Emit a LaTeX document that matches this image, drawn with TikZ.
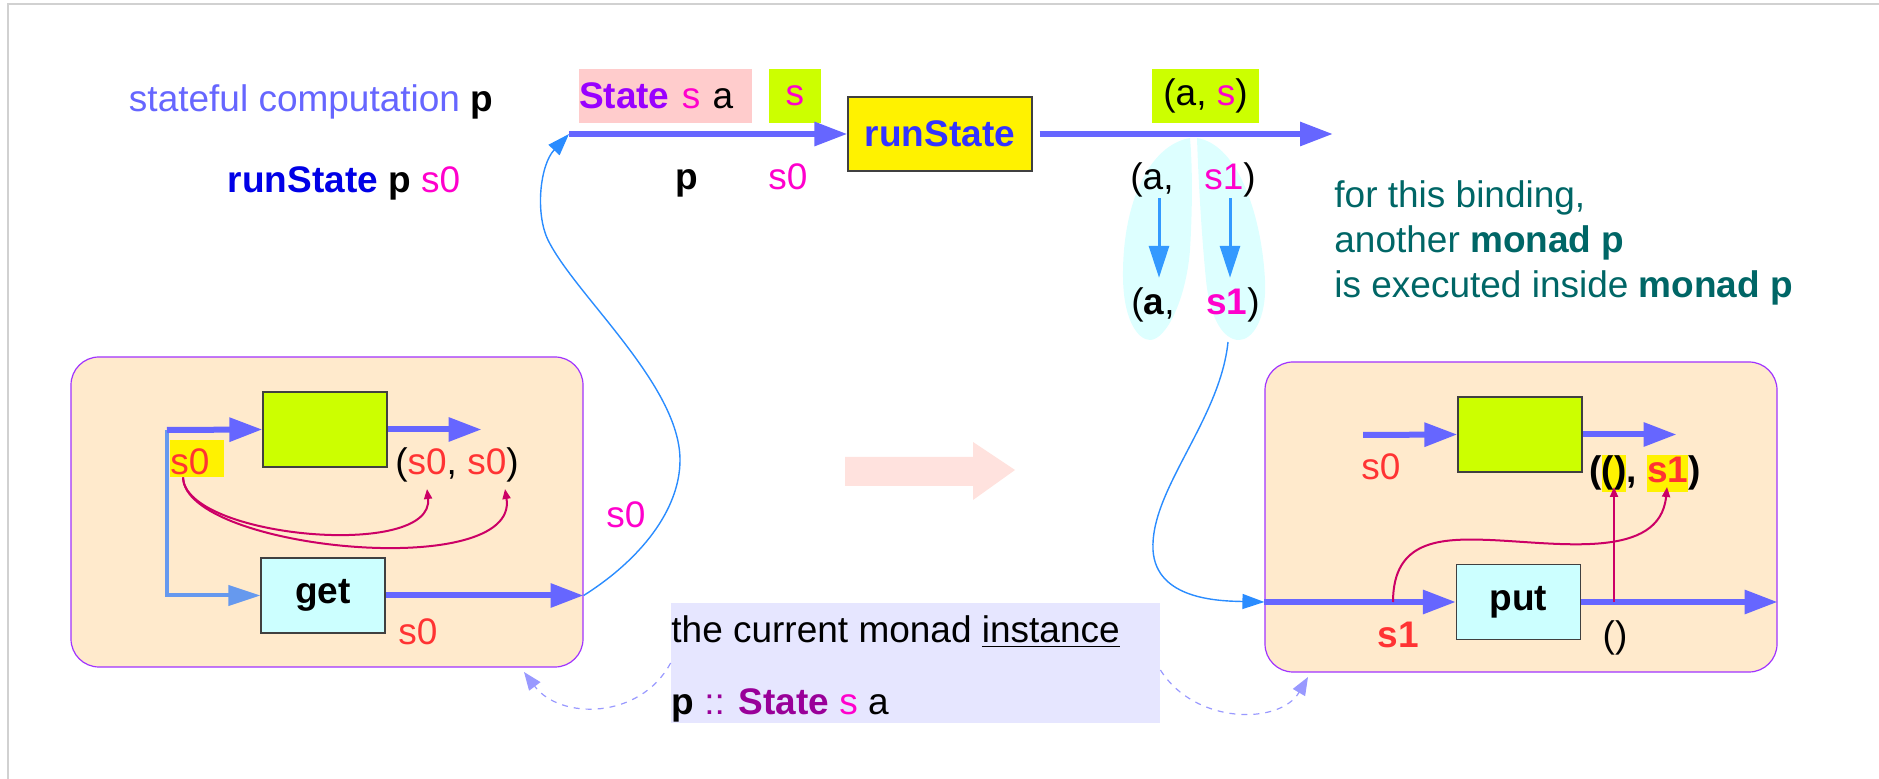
\documentclass[tikz,border=0pt]{standalone}
\usepackage{fontspec}
\setmainfont{Liberation Sans}
\usetikzlibrary{arrows.meta,positioning}

\definecolor{flow}{HTML}{6666FF}
\definecolor{wire}{HTML}{2A8CFF}
\definecolor{drop}{HTML}{3399FF}
\definecolor{fork}{HTML}{6699EE}
\definecolor{bind}{HTML}{CC0066}
\definecolor{stmag}{HTML}{FF00CC}
\definecolor{stred}{HTML}{FF3333}
\definecolor{stviolet}{HTML}{9900FF}
\definecolor{stplum}{HTML}{990099}
\definecolor{stblue}{HTML}{0000E6}
\definecolor{runblue}{HTML}{3333FF}
\definecolor{noteteal}{HTML}{006666}
\definecolor{stlime}{HTML}{CCFF00}
\definecolor{stcyan}{HTML}{CCFFFF}
\definecolor{leaf}{HTML}{DDFFFF}
\definecolor{panefill}{HTML}{FFEACC}
\definecolor{paneline}{HTML}{A033FF}
\definecolor{instfill}{HTML}{E6E6FF}
\definecolor{rose}{HTML}{FFCCCC}
\definecolor{ghost}{HTML}{FFE2DE}
\definecolor{hint}{HTML}{9999FF}

\newcommand{\hilite}[1]{{\setlength{\fboxsep}{0pt}\colorbox{yellow}{\vrule height 14pt depth 4.5pt width 0pt#1}}}

\begin{document}
\begin{tikzpicture}[x=0.5pt, y=-0.5pt, font=\fontsize{18.5}{22.5}\selectfont,
  flowarr/.style={draw=flow, line width=3pt, -{Triangle[length=16.5pt,width=11.5pt]}},
  forkarr/.style={draw=fork, line width=2pt, -{Triangle[length=16pt,width=10pt]}},
  droparr/.style={draw=drop, line width=1.5pt, -{Triangle[length=16pt,width=10pt]}},
  wirearr/.style={draw=wire, line width=0.7pt, -{Triangle[length=11pt,width=7.5pt]}},
  bindarr/.style={draw=bind, line width=1pt, -{Triangle[length=5pt,width=4pt]}},
  hintarr/.style={draw=hint, line width=0.6pt, dashed, -{Triangle[length=9pt,width=7pt]}},
  pane/.style={draw=paneline, fill=panefill, line width=0.6pt, rounded corners=14pt, minimum width=256pt, minimum height=155pt},
  fnbox/.style={draw=black!75, line width=0.6pt, minimum width=62pt, minimum height=37.5pt, inner sep=0pt},
  chip/.style={inner sep=0pt, minimum height=27pt},
  lbl/.style={inner sep=0pt, anchor=base}]
  \useasboundingbox (0,0) rectangle (1879,779);
  \draw[black!18, line width=1pt] (8,779) -- (8,4) -- (1879,4);

  \node[lbl, text=flow] (title) at (311,112) {stateful computation \textcolor{black}{\textbf{p}}};
  \node[lbl] (call) at (344,193) {\textcolor{stblue}{\textbf{runState}} \textbf{p} \textcolor{stmag}{s0}};

  % split of the result pair
  \fill[leaf] (1190,138) .. controls (1150,145) and (1124,200) .. (1123,270)
    .. controls (1122,320) and (1138,340) .. (1150,340)
    .. controls (1166,340) and (1186,300) .. (1190,250)
    .. controls (1193,200) and (1192,160) .. (1190,138) -- cycle;
  \fill[leaf] (1197,138) .. controls (1240,145) and (1262,220) .. (1265,280)
    .. controls (1267,320) and (1252,340) .. (1239,340)
    .. controls (1224,340) and (1210,320) .. (1206,280)
    .. controls (1201,230) and (1198,170) .. (1197,138) -- cycle;

  \node[chip, fill=rose, text width=86.5pt, align=left] (stype) at (665.5,96) {\textcolor{stviolet}{\textbf{State}} \textcolor{stmag}{s} a};
  \node[chip, fill=stlime, minimum width=26pt, text=stmag, right=8pt of stype] (sin) {s};
  \node[fnbox, fill=yellow, minimum width=92pt, minimum height=37pt, text=runblue] (run) at (940,134) {\textbf{runState}};
  \node[chip, fill=stlime, minimum width=53.5pt] (sout) at (1205.5,96) {(a, \textcolor{stmag}{s})};
  \coordinate (pin) at (569,134);
  \coordinate (pout) at (1333,134);
  \draw[flowarr] (pin) -- (run.west);
  \draw[flowarr] ([xshift=3.5pt]run.east) -- (pout);
  \node[lbl] (plab) at (687,190) {\textbf{p}};
  \node[lbl, text=stmag] (s0lab) at (788,190) {s0};

  \node[lbl] (pairA) at (1152,190) {(a,};
  \node[lbl, text=stmag] (pairS) at (1230,190) {s1\textcolor{black}{)}};
  \node[lbl] (resA) at (1153,315) {(\textbf{a},};
  \node[lbl, text=stmag] (resS) at (1233,315) {\textbf{s1}\textcolor{black}{)}};
  \draw[droparr, shorten >=5pt] ([xshift=3.5pt]pairA.south) -- ([xshift=3.5pt]pairA.south |- resA.north);
  \draw[droparr, shorten >=5pt] (pairS.south) -- (pairS.south |- resS.north);
  \coordinate (leafbot) at (1228,342);

  \node[inner sep=0pt, anchor=north west, align=left, text=noteteal] (note) at (1334,180) {for this binding,\\ another \textbf{monad p}\\ is executed inside \textbf{monad p}};

  \node[pane] (lbox) at (327,512) {};
  \node[fnbox, fill=stlime] (lgreen) at (325,429.5) {};
  \node[fnbox, fill=stcyan] (get) at (323,595.5) {\textbf{get}};
  \coordinate (lsplit) at (167,430);
  \draw[forkarr] (lsplit) |- (get.west);
  \draw[flowarr] (lsplit) -- (lgreen.west);
  \draw[flowarr] (lgreen.east) -- ++(94,0);
  \draw[flowarr] (get.east) -- (get.east -| lbox.east);
  \node[fill=yellow, inner sep=0pt, anchor=base west, text width=27pt, text height=17.5pt, text depth=1pt, text=stred] (ls0) at (170,475) {s0};
  \node[lbl] (lpair) at (457,475) {(\textcolor{stred}{s0}, \textcolor{stred}{s0})};
  \node[lbl, text=stred] (lgets0) at (418,645) {s0};
  \coordinate (lfst) at (427,489);
  \coordinate (lsnd) at (505,489);
  \draw[bindarr] ([xshift=6.5pt]ls0.south west) .. controls (185,538) and (435,560) .. (lfst);
  \draw[bindarr] ([xshift=6.5pt]ls0.south west) .. controls (185,550) and (520,582) .. (lsnd);

  \fill[ghost] (845,457) -- (973,457) -- (973,442) -- (1015,470) -- (973,500) -- (973,486) -- (845,486) -- cycle;

  \node[pane] (rbox) at (1521,517) {};
  \node[fnbox, fill=stlime] (rgreen) at (1520,434.5) {};
  \node[fnbox, fill=stcyan] (put) at (1518.5,602) {\textbf{put}};
  \coordinate (rin) at (1363,435);
  \draw[flowarr] (rin) -- (rgreen.west);
  \draw[flowarr] (rgreen.east) -- ++(94,0);
  \draw[flowarr] (rbox.west |- put.west) -- (put.west);
  \draw[flowarr] (put.east) -- (put.east -| rbox.east);
  \node[lbl, text=stred] (rs0) at (1381,480) {s0};
  \node[lbl] (rpair) at (1645,483) {\textbf{(\hilite{()}, \hilite{\textcolor{stred}{s1}})}};
  \node[lbl, text=stred] (rs1) at (1398,648) {\textbf{s1}};
  \node[lbl] (runit) at (1615,648) {()};
  \coordinate (rfst) at (1614,487);
  \coordinate (rsnd) at (1667,487);
  \coordinate (rtap) at (1393,602);
  \draw[bindarr] (rfst |- put.east) -- (rfst);
  \draw[bindarr] (rtap) .. controls (1393,540) and (1440,538) .. (1490,540)
    .. controls (1560,543) and (1660,560) .. (rsnd);

  \draw[wirearr] (get.east -| lbox.east) .. controls (640,560) and (680,510) .. (680,460)
    .. controls (680,385) and (575,295) .. (548,240) .. controls (535,213) and (540,165) .. (pin);
  \node[lbl, text=stmag] (wires0) at (626,528) {s0};
  \draw[wirearr] (leafbot) .. controls (1220,420) and (1150,490) .. (1153,550)
    .. controls (1156,600) and (1220,601) .. (rbox.west |- put.west);

  \node[fill=instfill, minimum width=244.5pt, minimum height=60pt, inner sep=0pt] (inst) at (915.5,663) {};
  \node[lbl, anchor=base west] (instA) at (671,643) {the current monad \underline{instance}};
  \node[lbl, anchor=base west] (instB) at (671,715) {\textbf{p} \textcolor{stplum}{:: \textbf{State}} \textcolor{stmag}{s} a};
  \coordinate (lhint) at (524,672);
  \coordinate (rhint) at (1308,677);
  \draw[hintarr] (inst.west) .. controls (640,720) and (560,720) .. (lhint);
  \draw[hintarr] ([yshift=-3.5pt]inst.east) .. controls (1195,725) and (1280,725) .. (rhint);
\end{tikzpicture}
\end{document}
